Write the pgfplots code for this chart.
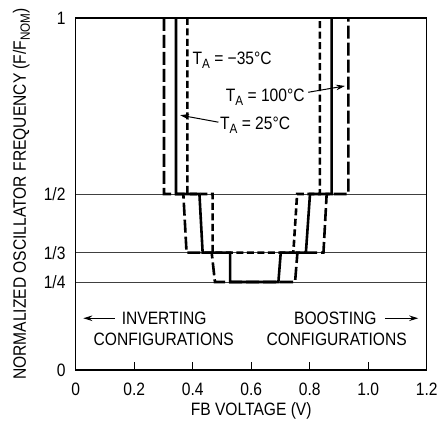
\documentclass[border=0pt]{standalone}
\usepackage{fontspec}
\setmainfont{Liberation Sans}[FakeStretch=0.87]
\usepackage{pgfplots}
\pgfplotsset{compat=1.18}
\usetikzlibrary{arrows.meta}
\newcommand\sub[1]{\raisebox{-0.22em}{\fontsize{13.5}{14}\selectfont #1}}

\begin{document}
\begin{tikzpicture}
\begin{axis}[
  scale only axis, width=351bp, height=352bp,
  xmin=0, xmax=1.2, ymin=0, ymax=1,
  font=\fontsize{18}{20}\selectfont,
  axis line style={line width=1.1bp},
  xtick={0,0.2,0.4,0.6,0.8,1.0,1.2},
  xticklabels={0,0.2,0.4,0.6,0.8,1.0,1.2},
  ytick={0,0.25,0.333333,0.5,1},
  yticklabels={0,1/4,1/3,1/2,1},
  ymajorgrids, major grid style={line width=0.8bp, black!75},
  tick align=inside, xtick pos=bottom, ytick pos=left,
  ytick style={draw=none},
  xtick style={line width=0.8bp, black},
  major tick length=8bp,
  xticklabel style={anchor=north, inner sep=0pt, yshift=-13bp},
  yticklabel style={anchor=east, inner sep=0pt, xshift=-10bp},
  clip=false,
]
% frame for the page size
\path (rel axis cs:0,0) ++(-75.7bp,-55bp) rectangle ++(439bp,425bp);

% T_A = 25C (solid)
\addplot[black, line width=2.6bp] coordinates {
  (0.343,1) (0.343,0.5) (0.423,0.5) (0.434,0.3333) (0.528,0.3333) (0.528,0.25)
  (0.693,0.25) (0.701,0.3333) (0.787,0.3333) (0.801,0.5) (0.875,0.5) (0.875,1)
};
% T_A = -35C (short dashes)
\addplot[black, line width=2.6bp, dash pattern=on 7bp off 3.5bp] coordinates {
  (0.382,1) (0.382,0.5) (0.468,0.5) (0.468,0.3333) (0.744,0.3333)
  (0.757,0.5) (0.835,0.5) (0.835,1)
};
% T_A = 100C (long dashes)
\addplot[black, line width=2.6bp, dash pattern=on 13bp off 4bp] coordinates {
  (0.302,1) (0.302,0.5) (0.368,0.5) (0.379,0.3333) (0.465,0.3333) (0.476,0.25)
  (0.750,0.25) (0.758,0.3333) (0.847,0.3333) (0.858,0.5) (0.932,0.5) (0.932,1)
};

% labels
\node[rotate=90, anchor=base] at (axis cs:-0.170,0.5)
  {NORMALIZED OSCILLATOR FREQUENCY (F/F\sub{NOM})};
\node[anchor=base] at (axis cs:0.6,-0.128) {FB VOLTAGE (V)};

\node[anchor=base west, inner sep=0pt] at (axis cs:0.399,0.868) {T\sub{A} = −35°C};
\node[anchor=base west, inner sep=0pt] at (axis cs:0.513,0.764) {T\sub{A} = 100°C};
\node[anchor=base west, inner sep=0pt] at (axis cs:0.493,0.682) {T\sub{A} = 25°C};
\draw[line width=1bp, -{Stealth[length=9bp,width=5.5bp]}] (axis cs:0.795,0.789) -- (axis cs:0.921,0.807);
\draw[line width=1bp, -{Stealth[length=9bp,width=5.5bp]}] (axis cs:0.488,0.704) -- (axis cs:0.357,0.724);

\node[anchor=base west, inner sep=0pt] at (axis cs:0.157,0.128) {INVERTING};
\node[anchor=base, inner sep=0pt] at (axis cs:0.301,0.071) {CONFIGURATIONS};
\draw[line width=1bp, -{Stealth[length=9bp,width=5.5bp]}] (axis cs:0.134,0.147) -- (axis cs:0.026,0.147);
\node[anchor=base east, inner sep=0pt] at (axis cs:1.029,0.128) {BOOSTING};
\node[anchor=base, inner sep=0pt] at (axis cs:0.892,0.071) {CONFIGURATIONS};
\draw[line width=1bp, -{Stealth[length=9bp,width=5.5bp]}] (axis cs:1.057,0.147) -- (axis cs:1.171,0.147);
\end{axis}
\end{tikzpicture}
\end{document}
